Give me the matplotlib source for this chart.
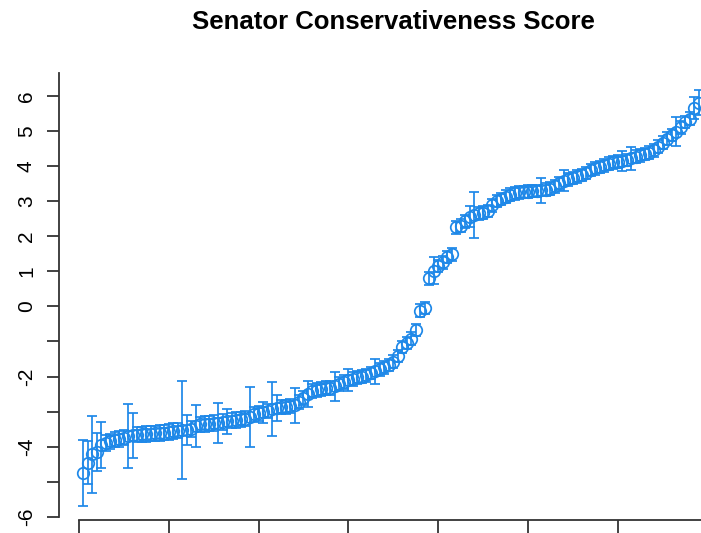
import numpy as np
import matplotlib
matplotlib.use("Agg")
from matplotlib import pyplot as plt

plt.rcParams['font.family'] = ['Liberation Sans', 'DejaVu Sans']

# senator ranks (sorted) and posterior mean score
rank = np.arange(1, 139)
score = [
    -4.75, -4.45, -4.22, -4.15, -3.95, -3.90, -3.85, -3.80, -3.78, -3.74,
    -3.70, -3.68, -3.66, -3.65, -3.64, -3.63, -3.62, -3.61, -3.60, -3.58,
    -3.55, -3.54, -3.53, -3.52, -3.50, -3.42, -3.36, -3.35, -3.34, -3.33,
    -3.32, -3.30, -3.28, -3.26, -3.24, -3.22, -3.20, -3.15, -3.08, -3.05,
    -3.02, -2.98, -2.92, -2.90, -2.88, -2.87, -2.85, -2.82, -2.72, -2.60,
    -2.50, -2.42, -2.38, -2.36, -2.34, -2.32, -2.28, -2.22, -2.15, -2.10,
    -2.06, -2.02, -2.00, -1.97, -1.90, -1.85, -1.80, -1.74, -1.67, -1.58,
    -1.42, -1.16, -1.05, -0.92, -0.68, -0.12, -0.05, 0.80, 1.02, 1.15,
    1.25, 1.40, 1.48, 2.25, 2.30, 2.42, 2.55, 2.60, 2.65, 2.67,
    2.72, 2.88, 3.00, 3.06, 3.12, 3.18, 3.22, 3.25, 3.26, 3.27,
    3.28, 3.29, 3.30, 3.32, 3.35, 3.42, 3.50, 3.58, 3.62, 3.66,
    3.70, 3.74, 3.80, 3.88, 3.93, 3.97, 4.02, 4.06, 4.10, 4.12,
    4.14, 4.17, 4.22, 4.26, 4.30, 4.34, 4.38, 4.44, 4.55, 4.66,
    4.78, 4.88, 4.98, 5.10, 5.25, 5.35, 5.65, 5.80,
]
# half-width of the interval around each score
err = [
    0.93, 0.60, 1.10, 0.55, 0.65, 0.22, 0.22, 0.22, 0.22, 0.22,
    0.92, 0.63, 0.22, 0.22, 0.22, 0.22, 0.22, 0.22, 0.22, 0.22,
    0.22, 0.22, 1.40, 0.43, 0.22, 0.60, 0.22, 0.22, 0.22, 0.22,
    0.57, 0.22, 0.36, 0.22, 0.22, 0.22, 0.22, 0.85, 0.22, 0.22,
    0.30, 0.20, 0.77, 0.38, 0.20, 0.20, 0.20, 0.50, 0.20, 0.20,
    0.37, 0.20, 0.20, 0.20, 0.20, 0.20, 0.42, 0.20, 0.20, 0.30,
    0.20, 0.18, 0.18, 0.18, 0.18, 0.35, 0.18, 0.18, 0.18, 0.18,
    0.18, 0.18, 0.18, 0.18, 0.18, 0.18, 0.18, 0.18, 0.38, 0.18,
    0.18, 0.18, 0.18, 0.18, 0.18, 0.18, 0.30, 0.66, 0.18, 0.18,
    0.18, 0.18, 0.18, 0.18, 0.18, 0.18, 0.18, 0.18, 0.18, 0.18,
    0.18, 0.18, 0.36, 0.18, 0.18, 0.18, 0.18, 0.30, 0.18, 0.18,
    0.18, 0.18, 0.18, 0.18, 0.18, 0.18, 0.18, 0.18, 0.18, 0.18,
    0.28, 0.18, 0.33, 0.18, 0.18, 0.18, 0.18, 0.18, 0.18, 0.18,
    0.18, 0.18, 0.40, 0.18, 0.18, 0.18, 0.30, 0.35,
]
yticks = list(range(-6, 7))
ylabels = ["-6", "", "-4", "", "-2", "", "0", "1", "2", "3", "4", "5", "6"]
xticks = [0, 20, 40, 60, 80, 100, 120]

W, H = 701, 533
fig = plt.figure(figsize=(W / 100, H / 100), dpi=100)
# axes box in pixels: left 59, right 701, top 60, bottom 520
ax = fig.add_axes([59 / W, (H - 520) / H, (W - 59) / W, 460 / H])

col = "#1E88E8"
ax.errorbar(rank, score, yerr=err, fmt="o", mfc="none", mec=col, ms=8.3,
            mew=1.25, ecolor=col, elinewidth=1.25, capsize=3.6, capthick=1.25)

ax.set_xlim(-4.454, 138.53)
ax.set_ylim(-6.088, 7.017)

for s in ["top", "right"]:
    ax.spines[s].set_visible(False)
ax.spines["left"].set_bounds(-6, 6.65)
ax.spines["bottom"].set_bounds(0, 138.53)
for s in ["left", "bottom"]:
    ax.spines[s].set_linewidth(1.3)
    ax.spines[s].set_color("#333333")

ax.set_yticks(yticks)
ax.set_yticklabels(ylabels, rotation=90, va="center", fontsize=15)
ax.set_xticks(xticks)
ax.tick_params(axis="y", length=8.6, width=1.3, pad=8, color="#333333")
ax.tick_params(axis="x", length=9.5, width=1.3, labelbottom=False, color="#333333")

fig.text(393 / W, 1 - 22 / H, "Senator Conservativeness Score",
         ha="center", va="center", fontsize=18.5, fontweight="bold")

fig.savefig("out.png", dpi=100)
